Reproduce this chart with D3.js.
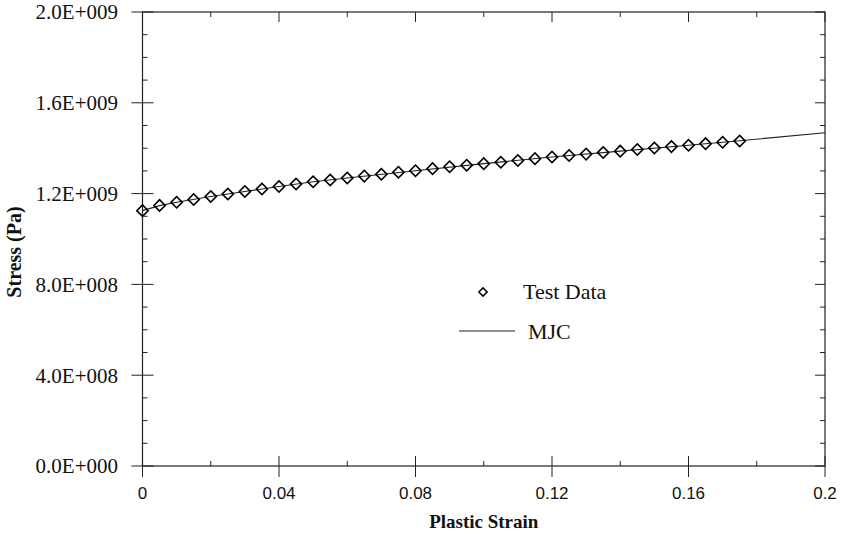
<!DOCTYPE html>
<html>
<head>
<meta charset="utf-8">
<script src="https://cdn.jsdelivr.net/npm/d3@7"></script>
<style>
  html, body { margin: 0; padding: 0; background: #fff; }
  svg { display: block; }
</style>
</head>
<body>
<svg id="chart" width="841" height="539"></svg>
<script>
// Flow stress vs plastic strain: test points and the MJC fit
const testStrain = [0, 0.005, 0.01, 0.015, 0.02, 0.025, 0.03, 0.035, 0.04, 0.045,
  0.05, 0.055, 0.06, 0.065, 0.07, 0.075, 0.08, 0.085, 0.09, 0.095,
  0.1, 0.105, 0.11, 0.115, 0.12, 0.125, 0.13, 0.135, 0.14, 0.145,
  0.15, 0.155, 0.16, 0.165, 0.17, 0.175];
const testStress = [1.125e9, 1.148e9, 1.162e9, 1.174e9, 1.187e9, 1.198e9, 1.209e9, 1.220e9, 1.231e9, 1.242e9,
  1.252e9, 1.260e9, 1.269e9, 1.277e9, 1.285e9, 1.294e9, 1.301e9, 1.310e9, 1.318e9, 1.325e9,
  1.332e9, 1.338e9, 1.346e9, 1.354e9, 1.361e9, 1.368e9, 1.374e9, 1.381e9, 1.387e9, 1.394e9,
  1.401e9, 1.407e9, 1.413e9, 1.420e9, 1.426e9, 1.432e9];

const mjcStrain = [0, 0.005, 0.01, 0.02, 0.03, 0.04, 0.05, 0.06, 0.08, 0.1,
  0.12, 0.14, 0.16, 0.175, 0.2];
const mjcStress = [1.125e9, 1.147e9, 1.162e9, 1.187e9, 1.209e9, 1.231e9, 1.252e9, 1.269e9, 1.301e9, 1.332e9,
  1.361e9, 1.387e9, 1.413e9, 1.433e9, 1.468e9];

const xMajorTicks = [0, 0.04, 0.08, 0.12, 0.16, 0.2];
const xTickLabels = ["0", "0.04", "0.08", "0.12", "0.16", "0.2"];
const xMinorTicks = [0.02, 0.06, 0.1, 0.14, 0.18];
const yMajorTicks = [0, 4e8, 8e8, 1.2e9, 1.6e9, 2.0e9];
const yTickLabels = ["0.0E+000", "4.0E+008", "8.0E+008", "1.2E+009", "1.6E+009", "2.0E+009"];
const yMinorTicks = [1e8, 2e8, 3e8, 5e8, 6e8, 7e8, 9e8, 1.0e9, 1.1e9, 1.3e9, 1.4e9, 1.5e9, 1.7e9, 1.8e9, 1.9e9];

const legendLabels = ["Test Data", "MJC"];

const svg = d3.select("#chart");
const plotL = 142.5, plotR = 825, plotT = 12, plotB = 466;

const x = d3.scaleLinear().domain([0, 0.2]).range([plotL, plotR]);
const y = d3.scaleLinear().domain([0, 2e9]).range([plotB, plotT]);

const axisColor = "#222";
const serif = "'Liberation Serif', 'Times New Roman', serif";
const sans = "'Liberation Sans', Arial, sans-serif";

const g = svg.append("g");

// frame
g.append("rect")
  .attr("x", plotL).attr("y", plotT)
  .attr("width", plotR - plotL).attr("height", plotB - plotT)
  .attr("fill", "none").attr("stroke", axisColor).attr("stroke-width", 1.2);

// bottom axis: major ticks cross the axis, minor ticks point up
g.selectAll(".xmaj").data(xMajorTicks).join("line")
  .attr("x1", d => x(d)).attr("x2", d => x(d))
  .attr("y1", plotB - 10).attr("y2", plotB + 11)
  .attr("stroke", axisColor).attr("stroke-width", 1);
g.selectAll(".xmin").data(xMinorTicks).join("line")
  .attr("x1", d => x(d)).attr("x2", d => x(d))
  .attr("y1", plotB - 5).attr("y2", plotB)
  .attr("stroke", axisColor).attr("stroke-width", 1);

// top axis: ticks point down into the plot
g.selectAll(".xmajt").data(xMajorTicks).join("line")
  .attr("x1", d => x(d)).attr("x2", d => x(d))
  .attr("y1", plotT).attr("y2", plotT + 10)
  .attr("stroke", axisColor).attr("stroke-width", 1);
g.selectAll(".xmint").data(xMinorTicks).join("line")
  .attr("x1", d => x(d)).attr("x2", d => x(d))
  .attr("y1", plotT).attr("y2", plotT + 5)
  .attr("stroke", axisColor).attr("stroke-width", 1);

// left axis: major ticks cross, minor ticks point right
g.selectAll(".ymaj").data(yMajorTicks).join("line")
  .attr("x1", plotL - 11).attr("x2", plotL + 11)
  .attr("y1", d => y(d)).attr("y2", d => y(d))
  .attr("stroke", axisColor).attr("stroke-width", 1);
g.selectAll(".ymin").data(yMinorTicks).join("line")
  .attr("x1", plotL).attr("x2", plotL + 5)
  .attr("y1", d => y(d)).attr("y2", d => y(d))
  .attr("stroke", axisColor).attr("stroke-width", 1);

// right axis: ticks point left into the plot
g.selectAll(".ymajr").data(yMajorTicks).join("line")
  .attr("x1", plotR - 10).attr("x2", plotR)
  .attr("y1", d => y(d)).attr("y2", d => y(d))
  .attr("stroke", axisColor).attr("stroke-width", 1);
g.selectAll(".yminr").data(yMinorTicks).join("line")
  .attr("x1", plotR - 5).attr("x2", plotR)
  .attr("y1", d => y(d)).attr("y2", d => y(d))
  .attr("stroke", axisColor).attr("stroke-width", 1);

// tick labels
g.selectAll(".xlab").data(xMajorTicks).join("text")
  .attr("x", d => x(d)).attr("y", 499)
  .attr("text-anchor", "middle")
  .attr("font-family", sans).attr("font-size", 17)
  .attr("fill", "#111")
  .text((d, i) => xTickLabels[i]);

g.selectAll(".ylab").data(yMajorTicks).join("text")
  .attr("x", 118).attr("y", d => y(d))
  .attr("dy", "0.35em")
  .attr("text-anchor", "end")
  .attr("font-family", serif).attr("font-size", 21)
  .attr("fill", "#111")
  .text((d, i) => yTickLabels[i]);

// axis titles
g.append("text")
  .attr("x", x(0.1)).attr("y", 528)
  .attr("text-anchor", "middle")
  .attr("font-family", serif).attr("font-weight", "bold").attr("font-size", 19)
  .attr("fill", "#111")
  .text("Plastic Strain");

g.append("text")
  .attr("transform", `translate(21, ${y(1e9) + 13}) rotate(-90)`)
  .attr("text-anchor", "middle")
  .attr("font-family", serif).attr("font-weight", "bold").attr("font-size", 20)
  .attr("fill", "#111")
  .text("Stress (Pa)");

// MJC curve
const line = d3.line()
  .x(d => x(d[0]))
  .y(d => y(d[1]));
g.append("path")
  .datum(d3.zip(mjcStrain, mjcStress))
  .attr("d", line)
  .attr("fill", "none")
  .attr("stroke", "#222").attr("stroke-width", 1.1);

// test data markers
const diamond = d3.symbol().type(d3.symbolSquare).size(64);
g.selectAll(".pt").data(d3.zip(testStrain, testStress)).join("path")
  .attr("d", diamond)
  .attr("transform", d => `translate(${x(d[0])},${y(d[1])}) rotate(45)`)
  .attr("fill", "none")
  .attr("stroke", "#000").attr("stroke-width", 1.6);

// legend
const leg = g.append("g");
leg.append("path")
  .attr("d", d3.symbol().type(d3.symbolSquare).size(34))
  .attr("transform", "translate(483,292) rotate(45)")
  .attr("fill", "none").attr("stroke", "#000").attr("stroke-width", 1.5);
leg.append("text")
  .attr("x", 523).attr("y", 299)
  .attr("font-family", serif).attr("font-size", 22).attr("fill", "#111")
  .text(legendLabels[0]);
leg.append("line")
  .attr("x1", 459).attr("x2", 515).attr("y1", 331).attr("y2", 331)
  .attr("stroke", "#222").attr("stroke-width", 1.1);
leg.append("text")
  .attr("x", 528).attr("y", 339)
  .attr("font-family", serif).attr("font-size", 22).attr("fill", "#111")
  .text(legendLabels[1]);
</script>
</body>
</html>
